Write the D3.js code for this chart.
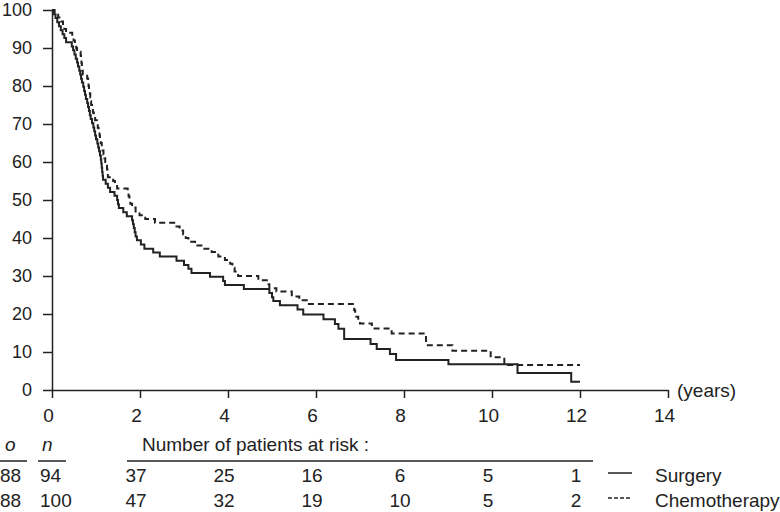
<!DOCTYPE html>
<html>
<head>
<meta charset="utf-8">
<script src="https://cdn.jsdelivr.net/npm/d3@7"></script>
<style>
  body { margin: 0; background: #fff; }
  svg text { font-family: "Liberation Sans", Arial, sans-serif; fill: #222; }
</style>
</head>
<body>
<svg id="chart" width="780" height="512"></svg>
<script>
// ---- data ----
const seriesNames = ["Surgery", "Chemotherapy"];
const surgeryTimes = [0, 0.03, 0.08, 0.12, 0.16, 0.20, 0.24, 0.28, 0.32, 0.45, 0.48, 0.51, 0.54, 0.57, 0.59, 0.62, 0.64, 0.66, 0.68, 0.71, 0.73, 0.75, 0.77, 0.80, 0.82, 0.84, 0.86, 0.88, 0.91, 0.94, 0.96, 0.98, 1.00, 1.03, 1.05, 1.07, 1.09, 1.11, 1.12, 1.13, 1.14, 1.15, 1.16, 1.22, 1.27, 1.32, 1.42, 1.48, 1.50, 1.52, 1.62, 1.70, 1.82, 1.84, 1.86, 1.88, 1.90, 1.93, 2.02, 2.10, 2.30, 2.45, 2.83, 3.00, 3.10, 3.17, 3.59, 3.89, 3.93, 4.36, 4.94, 5.00, 5.03, 5.18, 5.58, 5.71, 6.17, 6.43, 6.51, 6.64, 7.24, 7.38, 7.68, 7.82, 9.01, 10.58, 11.80, 12.00];
const surgerySurv  = [100, 98.9, 97.9, 96.8, 95.7, 94.7, 93.6, 92.6, 91.5, 90.4, 89.4, 88.3, 87.2, 86.2, 85.1, 84.0, 83.0, 81.9, 80.9, 79.8, 78.7, 77.7, 76.6, 75.5, 74.5, 73.4, 72.3, 71.3, 70.2, 69.1, 68.1, 67.0, 66.0, 64.9, 63.8, 62.8, 61.7, 60.6, 59.6, 58.5, 57.4, 56.4, 55.3, 54.3, 53.2, 52.1, 51.1, 50.0, 48.9, 47.9, 46.8, 45.7, 44.7, 43.6, 42.6, 41.5, 40.4, 39.4, 38.3, 37.2, 36.2, 35.1, 34.0, 32.9, 31.9, 30.8, 29.8, 28.7, 27.6, 26.6, 25.5, 24.4, 23.4, 22.3, 21.2, 19.9, 18.6, 17.4, 16.1, 13.4, 12.1, 10.8, 9.5, 7.9, 6.75, 4.5, 2.2, 2.2];
const chemoTimes = [0, 0.06, 0.14, 0.20, 0.25, 0.28, 0.32, 0.46, 0.49, 0.52, 0.55, 0.57, 0.65, 0.66, 0.67, 0.68, 0.69, 0.70, 0.80, 0.82, 0.83, 0.84, 0.86, 0.87, 0.88, 0.89, 0.91, 0.93, 0.95, 0.98, 1.02, 1.04, 1.06, 1.08, 1.09, 1.11, 1.13, 1.15, 1.17, 1.19, 1.21, 1.23, 1.25, 1.26, 1.27, 1.39, 1.43, 1.48, 1.72, 1.74, 1.76, 1.78, 1.82, 1.90, 1.99, 2.12, 2.34, 2.83, 2.90, 2.98, 3.04, 3.10, 3.25, 3.44, 3.63, 3.78, 3.93, 4.05, 4.10, 4.15, 4.23, 4.69, 4.92, 4.94, 5.10, 5.45, 5.62, 5.79, 6.87, 6.89, 6.96, 7.00, 7.27, 7.72, 8.50, 9.10, 9.97, 10.28, 12.00];
const chemoSurv  = [100, 99, 98, 97, 96, 95, 94, 93, 92, 91, 90, 89, 88, 87, 86, 85, 84, 83, 82, 81, 80, 79, 78, 77, 76, 75, 74, 73, 72, 71, 70, 69, 68, 67, 66, 65, 64, 63, 62, 61, 60, 59, 58, 57, 56, 55, 54, 53, 52, 51, 50, 49, 48, 47, 46, 45, 44, 43, 42, 41, 40, 39, 38, 37.2, 36.3, 35.1, 34.2, 33.2, 32.2, 31.2, 30.0, 28.9, 27.8, 26.8, 25.9, 24.6, 23.6, 22.6, 21.0, 19.3, 18.3, 17.5, 16.2, 14.9, 11.8, 10.3, 8.6, 6.6, 6.6];
const xTicks = [0, 2, 4, 6, 8, 10, 12, 14];
const yTicks = [0, 10, 20, 30, 40, 50, 60, 70, 80, 90, 100];
const atRiskTimes = [2, 4, 6, 8, 10, 12];
const atRiskSurgery = [37, 25, 16, 6, 5, 1];
const atRiskChemo = [47, 32, 19, 10, 5, 2];
const observed = [88, 88];
const totals = [94, 100];

// ---- drawing ----
const svg = d3.select("#chart");
const ink = "#222";
const fs = 19;
const x = d3.scaleLinear().domain([0, 14]).range([52, 668]);
const y = d3.scaleLinear().domain([0, 100]).range([390, 10]);

const yAxis = svg.append("g").attr("transform", `translate(${x(0)},0)`)
  .call(d3.axisLeft(y).tickValues(yTicks).tickSize(9).tickSizeOuter(0).tickPadding(11));
const xAxis = svg.append("g").attr("transform", `translate(0,${y(0)})`)
  .call(d3.axisBottom(x).tickValues(xTicks).tickSize(8).tickSizeOuter(0).tickPadding(11));
[yAxis, xAxis].forEach(g => {
  g.selectAll("path, line").attr("stroke", ink).attr("stroke-width", 1.5);
  g.selectAll("text").attr("font-size", fs).attr("fill", ink)
   .style("font-family", '"Liberation Sans", Arial, sans-serif');
});
yAxis.selectAll("text").attr("font-size", 18);
xAxis.selectAll("text").attr("dx", -4);

svg.append("text").attr("x", 677).attr("y", y(0)).attr("dy", "0.35em")
  .attr("font-size", fs).text("(years)");

const line = d3.line().x(d => x(d[0])).y(d => y(d[1])).curve(d3.curveStepAfter);
const surg = surgeryTimes.map((t, i) => [t, surgerySurv[i]]);
const chemo = chemoTimes.map((t, i) => [t, chemoSurv[i]]);
svg.append("path").datum(chemo).attr("d", line).attr("fill", "none")
  .attr("stroke", ink).attr("stroke-width", 2).attr("stroke-dasharray", "6,4");
svg.append("path").datum(surg).attr("d", line).attr("fill", "none")
  .attr("stroke", ink).attr("stroke-width", 2);

// ---- at-risk table ----
const hdrY = 451, row1 = 482, row2 = 507, ulY = 461;
svg.append("text").attr("x", 5).attr("y", hdrY).attr("font-size", fs)
  .attr("font-style", "italic").text("o");
svg.append("text").attr("x", 42).attr("y", hdrY).attr("font-size", fs)
  .attr("font-style", "italic").text("n");
svg.append("text").attr("x", 142).attr("y", hdrY).attr("font-size", fs)
  .text("Number of patients at risk :");
[[0, 27], [38, 66], [127, 593]].forEach(([a, b]) =>
  svg.append("line").attr("x1", a).attr("x2", b).attr("y1", ulY).attr("y2", ulY)
    .attr("stroke", ink).attr("stroke-width", 1.5));

const rows = [row1, row2];
const atRisk = [atRiskSurgery, atRiskChemo];
rows.forEach((ry, i) => {
  svg.append("text").attr("x", 0).attr("y", ry).attr("font-size", fs).text(observed[i]);
  svg.append("text").attr("x", 40).attr("y", ry).attr("font-size", fs).text(totals[i]);
  svg.selectAll(null).data(atRiskTimes).enter().append("text")
    .attr("x", t => x(t) - 4).attr("y", ry).attr("text-anchor", "middle")
    .attr("font-size", fs).text((t, j) => atRisk[i][j]);
  svg.append("line").attr("x1", 608).attr("x2", 632)
    .attr("y1", ry - 9).attr("y2", ry - 9)
    .attr("stroke", ink).attr("stroke-width", 1.5)
    .attr("stroke-dasharray", i === 1 ? "4,2" : null);
  svg.append("text").attr("x", 655).attr("y", ry).attr("font-size", fs).text(seriesNames[i]);
});
</script>
</body>
</html>
